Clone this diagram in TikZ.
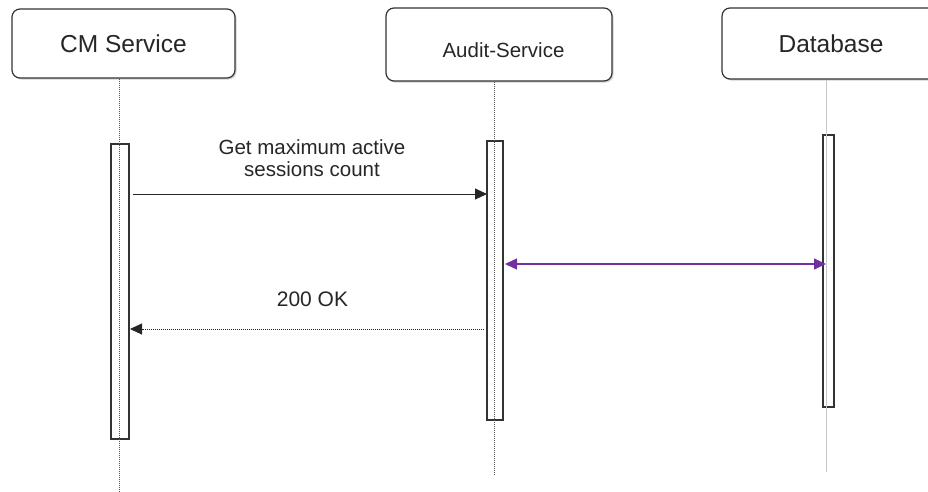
\documentclass[tikz,border=0pt]{standalone}
\usepackage{fontspec}
\setmainfont{Liberation Sans}
\usetikzlibrary{arrows.meta,shadows}
\definecolor{boxline}{HTML}{333333}
\definecolor{lifegray}{HTML}{555555}
\definecolor{dbgray}{HTML}{C8C8C8}
\definecolor{msgpurple}{HTML}{7030A0}
\tikzset{
  actorbox/.style={draw=boxline, line width=1.2pt, rounded corners=8pt, fill=white,
    drop shadow={shadow xshift=1.5pt, shadow yshift=-1.5pt, opacity=0.18, fill=black},
    inner sep=0pt},
  actbar/.style={draw=boxline, line width=1.1pt, fill=white, inner sep=0pt,
    drop shadow={shadow xshift=1.2pt, shadow yshift=-1.2pt, opacity=0.15, fill=black}},
  lifedot/.style={draw=lifegray, line width=0.8pt, dash pattern=on 1pt off 1pt},
  lifedb/.style={draw=dbgray, line width=1pt},
  msg/.style={line width=1pt, draw=black!85},
  lbl/.style={font=\fontsize{20.5pt}{22pt}\selectfont, text=black!85, inner sep=0pt},
}
\begin{document}
\begin{tikzpicture}[x=1pt,y=-1pt]
\useasboundingbox (0,0) rectangle (928,491);
\clip (0,0) rectangle (928,491);
% actor boxes
\node[actorbox, minimum width=223pt, minimum height=69pt, font=\fontsize{24.5pt}{26pt}\selectfont, text=black!85] (cm) at (123.5,43.5) {CM Service};
\node[actorbox, minimum width=226pt, minimum height=73pt] (audit) at (499,44.5) {};
\node[lbl] (auditlbl) at (503.5,50) {Audit-Service};
\node[actorbox, minimum width=218pt, minimum height=71pt, font=\fontsize{24.5pt}{26pt}\selectfont, text=black!85] (db) at (831,43.5) {Database};
% activation bars
\node[actbar, minimum width=18pt, minimum height=295pt] (cmbar) at (120,291.5) {};
\node[actbar, minimum width=16pt, minimum height=279pt] (auditbar) at (495,280.5) {};
\node[actbar, minimum width=11pt, minimum height=272pt] (dbbar) at (828.5,271) {};
% lifelines
\coordinate (cmend) at (119,491);
\coordinate (auditend) at (494,474);
\coordinate (dbend) at (826,472);
\draw[lifedot] (cm.south -| cmend) -- (cmend);
\draw[lifedot] (audit.south -| auditend) -- (auditend);
\draw[lifedb] (db.south -| dbend) -- (dbend);
% message end points
\coordinate (m1s) at (133,194);
\coordinate (m1e) at (487,194);
\coordinate (m2s) at (505,264);
\coordinate (m2e) at (826,264);
\coordinate (m3s) at (484,329);
\coordinate (m3e) at (130,329);
% messages
\draw[msg, -{Triangle[length=12pt,width=11pt]}] (m1s) -- (m1e);
\node[lbl, align=center] (m1lbl) at (312,158) {Get maximum active\\sessions count};
\draw[line width=1.3pt, draw=msgpurple, {Triangle[length=12pt,width=11pt,fill=msgpurple]}-{Triangle[length=12pt,width=11pt,fill=msgpurple]}] (m2s) -- (m2e);
\draw[line width=0.9pt, draw=black!85, dash pattern=on 1pt off 1pt, -{Triangle[length=12pt,width=11pt,sep=0pt]}] (m3s) -- (m3e);
\node[lbl, anchor=base, font=\fontsize{21pt}{23pt}\selectfont] (m3lbl) at (312.5,306) {200 OK};
\end{tikzpicture}
\end{document}
